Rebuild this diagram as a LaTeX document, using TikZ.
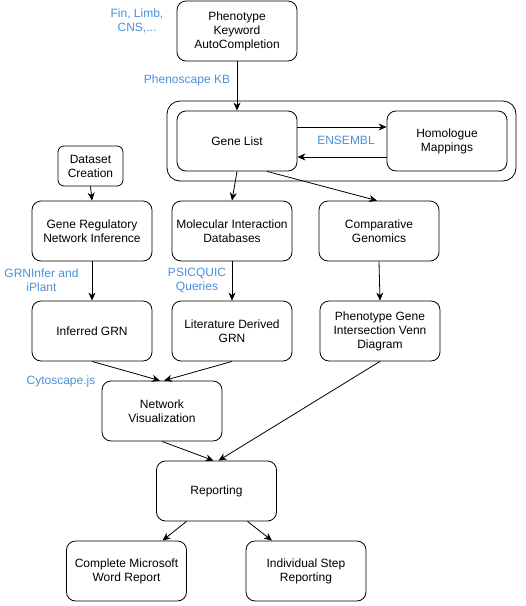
\documentclass[tikz,border=0pt]{standalone}
\usepackage{fontspec}
\setmainfont{Liberation Sans}
\usetikzlibrary{arrows.meta}
\definecolor{lbl}{HTML}{4A8FD8}
\begin{document}
\begin{tikzpicture}[x=1pt,y=-1pt,
  box/.style={draw=black,line width=0.8pt,rounded corners=9pt,minimum width=120pt,minimum height=60pt,inner sep=0pt,align=center,font=\fontsize{12}{14}\selectfont},
  lab/.style={text=lbl,align=center,font=\fontsize{12}{14}\selectfont,inner sep=0pt},
  arr/.style={line width=0.8pt,-{Stealth[length=8pt,width=7pt,inset=2.5pt]}},
  ln/.style={line width=0.8pt}]
\useasboundingbox (0,0) rectangle (526,606);
\node[draw=black,line width=0.8pt,rounded corners=13pt,minimum width=349pt,minimum height=80pt] (outer) at (341.5,141) {};
\node[box] (phen) at (237,31) {Phenotype\\Keyword\\AutoCompletion};
\node[box] (gl) at (237,141) {Gene List};
\node[box] (hom) at (447,141) {Homologue\\Mappings};
\node[box,minimum width=65pt,minimum height=40pt,rounded corners=6pt] (data) at (90.5,166) {Dataset\\Creation};
\node[box] (grn) at (92,231) {Gene Regulatory\\Network Inference};
\node[box] (mol) at (232,231) {Molecular Interaction\\Databases};
\node[box] (comp) at (379,231) {Comparative\\Genomics};
\node[box] (inf) at (92,331) {Inferred GRN};
\node[box] (lit) at (232,331) {Literature Derived\\GRN};
\node[box] (venn) at (380,331) {Phenotype Gene\\Intersection Venn\\Diagram};
\node[box] (net) at (162,411) {Network\\Visualization};
\node[box] (rep) at (216.5,491) {Reporting};
\node[box] (cmw) at (126.5,571) {Complete Microsoft\\Word Report};
\node[box] (ind) at (306,571) {Individual Step\\Reporting};
\node[lab] (l1) at (137,21) {Fin, Limb,\\CNS,...};
\node[lab] (l2) at (187,80) {Phenoscape KB};
\node[lab] (l3) at (346,140) {ENSEMBL};
\node[lab] (l4) at (41.5,280) {GRNInfer and\\iPlant};
\node[lab] (l5) at (197,280) {PSICQUIC\\Queries};
\node[lab] (l6) at (61,381) {Cytoscape.js};
\draw[arr] (phen.south) -- (gl.north);
\draw[arr] ([yshift=14pt]gl.east) -- ([yshift=14pt]hom.west);
\draw[arr] ([yshift=-16pt]hom.west) -- ([yshift=-16pt]gl.east);
\draw[arr] (gl.south) -- (mol.north);
\draw[arr] ([xshift=30pt]gl.south) -- ([xshift=-2pt]comp.north);
\draw[arr] (data.south) -- (grn.north);
\draw[arr] (grn.south) -- (inf.north);
\draw[arr] (mol.south) -- (lit.north);
\draw[arr] (comp.south) -- (venn.north);
\draw[arr] (inf.south) -- ([xshift=-2pt]net.north);
\draw[arr] (lit.south) -- ([xshift=2pt]net.north);
\draw[arr] (net.south) -- ([xshift=-3pt]rep.north);
\draw[arr] (venn.south) -- ([xshift=2pt]rep.north);
\draw[arr] ([xshift=-30pt]rep.south) -- ([xshift=36pt]cmw.north);
\draw[arr] ([xshift=31pt]rep.south) -- ([xshift=-34pt]ind.north);
\end{tikzpicture}
\end{document}
